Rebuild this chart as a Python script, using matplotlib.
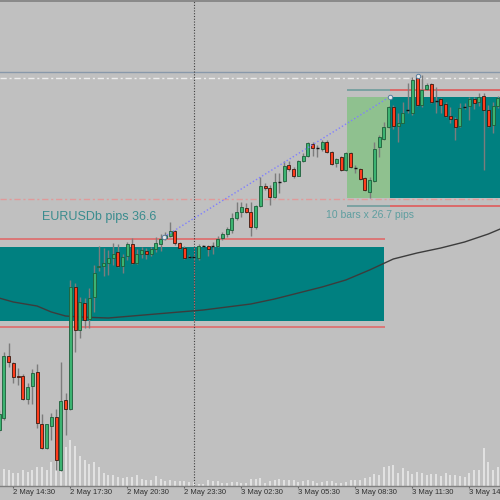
import matplotlib
matplotlib.use("Agg")
import matplotlib.pyplot as plt
from matplotlib.patches import Rectangle

# 15-minute EURUSD bars, index 0 = 2 May 14:30
bars = list(range(-3, 103))

opens = [
    1.07140, 1.07164, 1.07288, 1.07274, 1.07248, 1.07248, 1.07202, 1.07228, 1.07256, 1.07152,
    1.07104, 1.07148, 1.07166, 1.07060, 1.07200, 1.07182, 1.07426, 1.07340, 1.07394, 1.07362,
    1.07406, 1.07466, 1.07468, 1.07474, 1.07484, 1.07496, 1.07468, 1.07488, 1.07512, 1.07474,
    1.07492, 1.07498, 1.07492, 1.07502, 1.07512, 1.07524, 1.07528, 1.07538, 1.07514, 1.07504,
    1.07486, 1.07486, 1.07484, 1.07508, 1.07508, 1.07508, 1.07508, 1.07524, 1.07532, 1.07540,
    1.07564, 1.07576, 1.07584, 1.07576, 1.07546, 1.07588, 1.07628, 1.07624, 1.07606, 1.07636,
    1.07638, 1.07670, 1.07662, 1.07648, 1.07678, 1.07688, 1.07712, 1.07704, 1.07702, 1.07716,
    1.07696, 1.07674, 1.07686, 1.07660, 1.07694, 1.07664, 1.07662, 1.07644, 1.07616, 1.07638,
    1.07706, 1.07722, 1.07746, 1.07786, 1.07748, 1.07754, 1.07780, 1.07774, 1.07844, 1.07790,
    1.07822, 1.07832, 1.07798, 1.07802, 1.07792, 1.07768, 1.07762, 1.07748, 1.07786, 1.07788,
    1.07802, 1.07796, 1.07808, 1.07780, 1.07750, 1.07788,
]
highs = [
    1.07180, 1.07296, 1.07314, 1.07276, 1.07264, 1.07252, 1.07234, 1.07262, 1.07272, 1.07172,
    1.07152, 1.07174, 1.07182, 1.07276, 1.07214, 1.07440, 1.07434, 1.07406, 1.07404, 1.07424,
    1.07470, 1.07508, 1.07504, 1.07500, 1.07514, 1.07512, 1.07492, 1.07516, 1.07524, 1.07502,
    1.07506, 1.07504, 1.07506, 1.07526, 1.07532, 1.07536, 1.07556, 1.07540, 1.07516, 1.07508,
    1.07490, 1.07490, 1.07512, 1.07510, 1.07510, 1.07516, 1.07528, 1.07536, 1.07546, 1.07574,
    1.07596, 1.07596, 1.07594, 1.07596, 1.07590, 1.07646, 1.07634, 1.07630, 1.07654, 1.07654,
    1.07678, 1.07678, 1.07666, 1.07680, 1.07694, 1.07716, 1.07716, 1.07710, 1.07720, 1.07720,
    1.07698, 1.07684, 1.07688, 1.07696, 1.07696, 1.07670, 1.07664, 1.07646, 1.07646, 1.07716,
    1.07730, 1.07756, 1.07788, 1.07790, 1.07774, 1.07796, 1.07834, 1.07846, 1.07850, 1.07850,
    1.07834, 1.07834, 1.07826, 1.07804, 1.07796, 1.07786, 1.07766, 1.07794, 1.07794, 1.07806,
    1.07806, 1.07814, 1.07814, 1.07790, 1.07796, 1.07808,
]
lows = [
    1.07136, 1.07160, 1.07266, 1.07234, 1.07230, 1.07200, 1.07192, 1.07192, 1.07144, 1.07102,
    1.07102, 1.07120, 1.07060, 1.07058, 1.07130, 1.07180, 1.07296, 1.07324, 1.07344, 1.07344,
    1.07376, 1.07458, 1.07448, 1.07450, 1.07470, 1.07466, 1.07454, 1.07480, 1.07472, 1.07472,
    1.07484, 1.07482, 1.07488, 1.07496, 1.07498, 1.07520, 1.07526, 1.07510, 1.07502, 1.07482,
    1.07484, 1.07482, 1.07480, 1.07506, 1.07488, 1.07492, 1.07506, 1.07520, 1.07526, 1.07534,
    1.07560, 1.07566, 1.07574, 1.07528, 1.07542, 1.07586, 1.07620, 1.07590, 1.07604, 1.07614,
    1.07636, 1.07658, 1.07644, 1.07648, 1.07676, 1.07686, 1.07688, 1.07686, 1.07698, 1.07694,
    1.07670, 1.07666, 1.07658, 1.07658, 1.07664, 1.07654, 1.07640, 1.07618, 1.07604, 1.07636,
    1.07686, 1.07720, 1.07744, 1.07742, 1.07716, 1.07754, 1.07774, 1.07770, 1.07788, 1.07786,
    1.07820, 1.07794, 1.07774, 1.07774, 1.07766, 1.07754, 1.07720, 1.07746, 1.07782, 1.07760,
    1.07782, 1.07788, 1.07660, 1.07746, 1.07734, 1.07784,
]
closes = [
    1.07172, 1.07288, 1.07276, 1.07246, 1.07246, 1.07202, 1.07226, 1.07254, 1.07154, 1.07104,
    1.07152, 1.07166, 1.07080, 1.07198, 1.07182, 1.07426, 1.07340, 1.07396, 1.07360, 1.07404,
    1.07454, 1.07468, 1.07474, 1.07484, 1.07492, 1.07468, 1.07486, 1.07512, 1.07474, 1.07492,
    1.07500, 1.07492, 1.07502, 1.07514, 1.07522, 1.07530, 1.07538, 1.07514, 1.07504, 1.07484,
    1.07486, 1.07486, 1.07508, 1.07508, 1.07502, 1.07508, 1.07522, 1.07532, 1.07542, 1.07564,
    1.07576, 1.07586, 1.07576, 1.07546, 1.07588, 1.07628, 1.07624, 1.07606, 1.07636, 1.07636,
    1.07668, 1.07662, 1.07648, 1.07678, 1.07688, 1.07714, 1.07704, 1.07704, 1.07716, 1.07696,
    1.07672, 1.07682, 1.07660, 1.07694, 1.07666, 1.07664, 1.07642, 1.07620, 1.07640, 1.07702,
    1.07726, 1.07746, 1.07786, 1.07748, 1.07754, 1.07774, 1.07780, 1.07840, 1.07790, 1.07820,
    1.07830, 1.07796, 1.07798, 1.07790, 1.07768, 1.07762, 1.07746, 1.07784, 1.07786, 1.07802,
    1.07794, 1.07806, 1.07780, 1.07748, 1.07788, 1.07804,
]
volumes = [
    400, 435, 392, 335, 325, 392, 350, 410, 475, 467,
    392, 600, 750, 875, 975, 1142, 992, 750, 642, 560,
    600, 475, 335, 285, 267, 225, 210, 225, 225, 267,
    167, 142, 160, 242, 185, 125, 142, 117, 117, 117,
    100, 100, 60, 60, 142, 125, 125, 75, 75, 100,
    92, 75, 75, 185, 175, 192, 75, 125, 142, 167,
    160, 160, 142, 100, 117, 142, 117, 75, 100, 125,
    117, 75, 75, 100, 142, 142, 142, 210, 225, 292,
    267, 475, 500, 517, 325, 460, 375, 292, 350, 325,
    267, 310, 310, 250, 335, 267, 267, 242, 225, 325,
    392, 392, 960, 600, 410, 475,
]

# moving average
ma_bars = [-3, 0, 5, 8, 11, 14, 20, 30, 40, 50, 55, 60, 65, 70, 75, 80, 85, 90, 95, 100, 103]
ma_vals = [1.07404, 1.07396, 1.07388, 1.07376, 1.07368, 1.07366, 1.07364, 1.07372, 1.07380,
           1.07392, 1.07402, 1.07414, 1.07426, 1.07440, 1.07460, 1.07482, 1.07494, 1.07504,
           1.07516, 1.07532, 1.07544]

tick_bars = [0, 12, 24, 36, 48, 60, 72, 84, 96]
tick_labels = ["2 May 14:30", "2 May 17:30", "2 May 20:30", "2 May 23:30", "3 May 02:30",
               "3 May 05:30", "3 May 08:30", "3 May 11:30", "3 May 14:30"]

# chart objects
session_box = (1.07358, 1.07506)     # teal zone, left part
session_lines = (1.07346, 1.07522)
range_box = (1.07604, 1.07806)       # 10-bar range box
range_lines = (1.07588, 1.07820)
trend_bars = [31.7, 79.2]
trend_vals = [1.07526, 1.07806]
bid_level = 1.07856
ask_level = 1.07844
mid_level = 1.07602
top_level = 1.07997
separator_bar = 38

BG = "#c0c0c0"
TEAL = "#008080"
BULL, BULL_EDGE = "#3cb371", "#1d5e3a"
BEAR, BEAR_EDGE = "#ff3c1c", "#3a1a10"
WICK = "#7c7c7c"
DASHDOT = (0, (4.5, 2, 1.5, 2))

fig = plt.figure(figsize=(5, 5), dpi=100)
fig.patch.set_facecolor(BG)
rect = [0, 14 / 500, 1, 486 / 500]

vax = fig.add_axes(rect)
vax.set_facecolor(BG)
ax = fig.add_axes(rect, sharex=vax)
ax.set_facecolor("none")

x0, x1 = -2.8, 102.46
ax.set_xlim(x0, x1)
ax.set_ylim(1.07028, 1.08000)

# volumes behind everything
vax.vlines(bars, 0, volumes, color="#ececec", lw=1.1)
vax.set_ylim(0, 486 * 25)
vax.axis("off")

# zones
ax.add_patch(Rectangle((x0 - 5, session_box[0]), 78 - x0 + 5, session_box[1] - session_box[0],
                       facecolor=TEAL, edgecolor="none", zorder=1))
ax.add_patch(Rectangle((70.2, range_box[0]), 9.0, range_box[1] - range_box[0],
                       facecolor="#8fc18f", edgecolor="none", zorder=1))
ax.add_patch(Rectangle((79.2, range_box[0]), 40, range_box[1] - range_box[0],
                       facecolor=TEAL, edgecolor="none", zorder=1))

for lv in session_lines:
    ax.hlines(lv, x0 - 5, 78.2, color="#e06a6a", lw=1.2, zorder=2)
for lv in range_lines:
    ax.hlines(lv, 70.2, 79.2, color="#6f9c9c", lw=1.2, zorder=2)
    ax.hlines(lv, 79.2, 120, color="#e05a5a", lw=1.2, zorder=2)

ax.axhline(top_level, color="#808080", lw=1.2, zorder=2)
ax.axhline(bid_level, color="#8898aa", lw=1, zorder=2)
ax.axhline(ask_level, color="#ececec", lw=1, ls=DASHDOT, zorder=2)
ax.axhline(mid_level, color="#e09a9a", lw=1, ls=DASHDOT, zorder=2)

ax.axvline(separator_bar, color="#404040", lw=0.8, ls=(0, (1, 1.5)), zorder=2)
ax.vlines(separator_bar, session_box[0], session_box[1], color="#d06a6a", lw=0.8,
          ls=(0, (1, 1.5)), zorder=2)

# moving average
ax.plot(ma_bars, ma_vals, color="#3c3c3c", lw=1, zorder=3)

# candles
half = 0.32
for b, o, h, l, c in zip(bars, opens, highs, lows, closes):
    ax.vlines(b, l, h, color=WICK, lw=1, zorder=4)
    if abs(c - o) < 1e-9:
        ax.hlines(o, b - half, b + half, color="#111111", lw=1, zorder=5)
        continue
    face, edge = (BULL, BULL_EDGE) if c > o else (BEAR, BEAR_EDGE)
    ax.add_patch(Rectangle((b - half, min(o, c)), 2 * half, abs(c - o),
                           facecolor=face, edgecolor=edge, lw=0.6, zorder=5))

# trend line with anchor points
ax.plot(trend_bars, trend_vals, color="#7f7fff", lw=1, ls=(0, (1, 1.6)), zorder=6)
ax.plot(trend_bars, trend_vals, ls="none", marker="o", ms=3.2, mfc="#e8e8e8",
        mec="#5a7fa0", mew=0.7, zorder=7)
ax.plot([85.2], [1.07848], ls="none", marker="o", ms=3.2, mfc="#e8e8e8",
        mec="#5a7fa0", mew=0.7, zorder=7)

ax.text(6.0, 1.07560, "EURUSDb pips 36.6", fontsize=9, color="#3a8c8e",
        family="Liberation Sans", ha="left", va="baseline", zorder=8)
ax.text(65.8, 1.07564, "10 bars x 26.7 pips", fontsize=7.5, color="#5e9ea0",
        family="Liberation Sans", ha="left", va="baseline", zorder=8)

# axes styling
for s in ["top", "left", "right"]:
    ax.spines[s].set_visible(False)
ax.spines["bottom"].set_color("#808080")
ax.spines["bottom"].set_linewidth(1)
ax.set_yticks([])
ax.set_xticks(tick_bars)
ax.set_xticklabels(tick_labels, ha="left", family="Liberation Sans")
ax.tick_params(axis="x", direction="out", length=1.5, width=0.8, color="#606060",
               labelsize=5.5, labelcolor="#303030", pad=1)

fig.savefig("out.png", dpi=100, facecolor=BG)
